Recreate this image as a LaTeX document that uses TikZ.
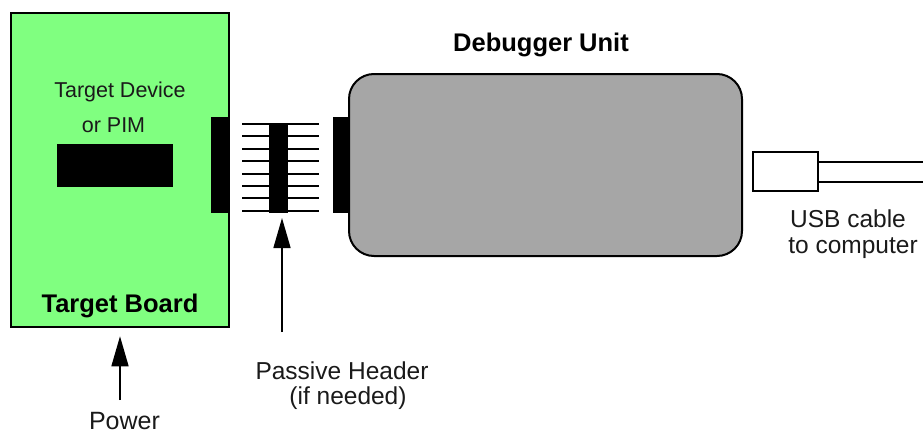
\documentclass[tikz,border=0pt]{standalone}
\usepackage{fontspec}
\setmainfont{Liberation Sans}
\usepackage{xcolor}
\usetikzlibrary{arrows.meta,positioning}

\definecolor{boardgreen}{HTML}{80FF80}
\definecolor{unitgray}{HTML}{A6A6A6}
\definecolor{txtgray}{HTML}{1A1A1A}

\tikzset{
  lbl/.style={anchor=base,inner sep=0pt,text=txtgray,font=\fontsize{24.5}{28}\selectfont},
  boldlbl/.style={lbl,font=\fontsize{25.5}{30}\selectfont\bfseries,text=black},
  feed/.style={line width=1.5pt,-{Triangle[length=30pt,width=17pt]}},
  pin/.style={line width=2pt},
  plug/.style={fill=black,draw=none}
}

\begin{document}
\begin{tikzpicture}[x=1pt,y=-1pt]
\useasboundingbox (0,0) rectangle (923,434);
% target board
\node[draw,line width=2.5pt,fill=boardgreen,minimum width=218pt,minimum height=314pt,inner sep=0pt] (board) at (120,170) {};
\node[lbl,font=\fontsize{21.5}{25}\selectfont] (dev) at (120,97) {Target Device};
\node[lbl,font=\fontsize{21.5}{25}\selectfont] (pim) at (113.5,132) {or PIM};
\node[plug,minimum width=116pt,minimum height=43pt] (chip) at (115,165.5) {};
\node[boldlbl] (tbname) at (120,312) {Target Board};
\node[plug,minimum width=17pt,minimum height=96pt,inner sep=0pt] (tbconn) at (219.5,165) {};
% passive header
\foreach \i in {0,...,7}
  \draw[pin] (242,124+\i*12.4) -- (319,124+\i*12.4);
\node[plug,minimum width=19pt,minimum height=89pt,inner sep=0pt] (header) at (278.5,168.5) {};
% debugger unit
\node[draw,line width=2pt,fill=unitgray,rounded corners=25pt,minimum width=393pt,minimum height=182pt,inner sep=0pt] (unit) at (545.5,165) {};
\node[boldlbl] (uname) at (541,51) {Debugger Unit};
\node[plug,minimum width=16pt,minimum height=96pt,inner sep=0pt] (dbconn) at (341,165) {};
% usb
\node[draw,line width=2pt,fill=white,minimum width=65pt,minimum height=39pt,inner sep=0pt] (usb) at (785.5,171.5) {};
\coordinate (cblend) at (925,172);
\draw[line width=2pt] (usb.east |- 0,162) -- (cblend |- 0,162);
\draw[line width=2pt] (usb.east |- 0,182) -- (cblend |- 0,182);
\node[lbl] (usb1) at (848,227) {USB cable};
\node[lbl] (usb2) at (853,253) {to computer};
% power
\node[lbl,font=\fontsize{25}{30}\selectfont] (power) at (124.5,429) {Power};
\coordinate (pwbase) at (120,400);
\draw[feed] (pwbase) -- ([yshift=-8pt]board.south);
% header label
\node[lbl] (hdr1) at (342,379) {Passive Header};
\node[lbl] (hdr2) at (348,404) {(if needed)};
\coordinate (hdbase) at (282,332);
\draw[feed] (hdbase) -- (hdbase |- 0,218);
\end{tikzpicture}
\end{document}
